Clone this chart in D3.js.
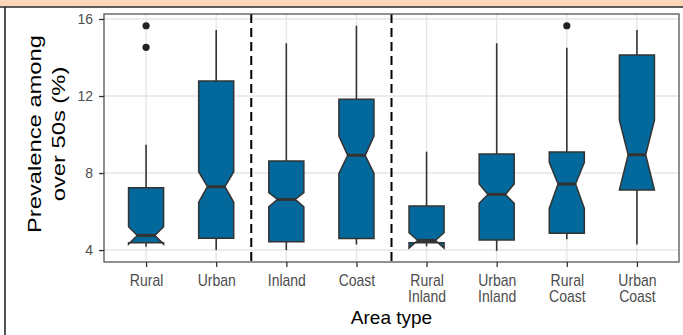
<!DOCTYPE html>
<html>
<head>
<meta charset="utf-8">
<script src="https://cdn.jsdelivr.net/npm/d3@7"></script>
<style>
  html, body { margin: 0; padding: 0; background: #ffffff; }
  svg { display: block; }
  text { font-family: "Liberation Sans", Arial, Helvetica, sans-serif; }
</style>
</head>
<body>
<svg id="chart" width="683" height="335"></svg>
<script>
// Area types (line breaks split the two-word labels)
const categories = ["Rural", "Urban", "Inland", "Coast",
  "Rural\nInland", "Urban\nInland", "Rural\nCoast", "Urban\nCoast"];

// Box-plot summaries per area type (prevalence, %)
const whiskerLow  = [4.17, 4.00, 4.00, 4.29, 4.20, 3.96, 4.56, 4.29];
const q1          = [4.38, 4.61, 4.43, 4.60, 4.38, 4.52, 4.87, 7.12];
const median      = [4.76, 7.29, 6.63, 8.92, 4.50, 6.89, 7.43, 8.95];
const q3          = [7.24, 12.78, 8.62, 11.83, 6.29, 8.99, 9.09, 14.13];
const whiskerHigh = [9.47, 15.43, 14.74, 15.65, 9.11, 14.74, 14.51, 15.43];
const notchLow    = [4.31, 6.48, 6.25, 7.98, 4.10, 6.43, 6.16, 7.12];
const notchHigh   = [5.21, 8.07, 6.98, 9.92, 4.90, 7.43, 8.55, 10.75];
const outliers    = [[15.65, 14.53], [], [], [], [], [], [15.65], []];

// Group separators sit between these category positions
const separatorsAfter = [1, 3];

const yTicks = [4, 8, 12, 16];

const svg = d3.select("#chart");
const W = 683, H = 335;

// Page frame: peach band with a dark rule, dark left edge
svg.append("rect").attr("x", 0).attr("y", 0).attr("width", W).attr("height", 6.5).attr("fill", "#fbd6b7");
svg.append("line").attr("x1", 0).attr("x2", W).attr("y1", 7).attr("y2", 7).attr("stroke", "#2a2a2a").attr("stroke-width", 1.6);
svg.append("line").attr("x1", 5).attr("x2", 5).attr("y1", 7).attr("y2", H).attr("stroke", "#2a2a2a").attr("stroke-width", 1.6);

const panel = { left: 104, right: 679, top: 14, bottom: 262 };

const y = d3.scaleLinear().domain([3.38, 16.26]).range([panel.bottom, panel.top]);
const x = d3.scalePoint().domain(categories).range([panel.left, panel.right]).padding(0.6);
const step = x.step();
const boxW = step * 0.5;
const inset = boxW * 0.25;

// Grid
const grid = svg.append("g");
grid.selectAll("line.h").data(yTicks).join("line")
  .attr("x1", panel.left).attr("x2", panel.right)
  .attr("y1", d => y(d)).attr("y2", d => y(d))
  .attr("stroke", "#e6e6e6").attr("stroke-width", 1.4);
grid.selectAll("line.v").data(categories).join("line")
  .attr("x1", d => x(d)).attr("x2", d => x(d))
  .attr("y1", panel.top).attr("y2", panel.bottom)
  .attr("stroke", "#e6e6e6").attr("stroke-width", 1.4);

// Dashed separators between groups
svg.append("g").selectAll("line").data(separatorsAfter).join("line")
  .attr("x1", d => x(categories[d]) + step / 2)
  .attr("x2", d => x(categories[d]) + step / 2)
  .attr("y1", panel.top).attr("y2", panel.bottom)
  .attr("stroke", "#000").attr("stroke-width", 2)
  .attr("stroke-dasharray", "9,5");

const boxes = categories.map((c, i) => ({
  c, lo: whiskerLow[i], q1: q1[i], med: median[i], q3: q3[i], hi: whiskerHigh[i],
  nl: notchLow[i], nh: notchHigh[i], out: outliers[i]
}));

const g = svg.append("g");
const stroke = "#333333";

// Whiskers
g.selectAll("line.wu").data(boxes).join("line")
  .attr("x1", d => x(d.c)).attr("x2", d => x(d.c))
  .attr("y1", d => y(d.q3)).attr("y2", d => y(d.hi))
  .attr("stroke", stroke).attr("stroke-width", 1.6);
g.selectAll("line.wl").data(boxes).join("line")
  .attr("x1", d => x(d.c)).attr("x2", d => x(d.c))
  .attr("y1", d => y(d.q1)).attr("y2", d => y(d.lo))
  .attr("stroke", stroke).attr("stroke-width", 1.6);

// Notched boxes
g.selectAll("path.box").data(boxes).join("path")
  .attr("d", d => {
    const cx = x(d.c), x0 = cx - boxW / 2, x1 = cx + boxW / 2;
    const pts = [
      [x0, y(d.q3)], [x0, y(d.nh)], [x0 + inset, y(d.med)], [x0, y(d.nl)], [x0, y(d.q1)],
      [x1, y(d.q1)], [x1, y(d.nl)], [x1 - inset, y(d.med)], [x1, y(d.nh)], [x1, y(d.q3)]
    ];
    return d3.line()(pts) + "Z";
  })
  .attr("fill", "#03689b").attr("stroke", stroke).attr("stroke-width", 1.5)
  .attr("stroke-linejoin", "miter");

// Medians
g.selectAll("line.med").data(boxes).join("line")
  .attr("x1", d => x(d.c) - boxW / 2 + inset).attr("x2", d => x(d.c) + boxW / 2 - inset)
  .attr("y1", d => y(d.med)).attr("y2", d => y(d.med))
  .attr("stroke", stroke).attr("stroke-width", 3);

// Outliers
g.selectAll("circle").data(boxes.flatMap(d => d.out.map(v => ({ c: d.c, v }))))
  .join("circle")
  .attr("cx", d => x(d.c)).attr("cy", d => y(d.v)).attr("r", 3.6)
  .attr("fill", "#222");

// Panel border
svg.append("rect")
  .attr("x", panel.left).attr("y", panel.top)
  .attr("width", panel.right - panel.left).attr("height", panel.bottom - panel.top)
  .attr("fill", "none").attr("stroke", "#555").attr("stroke-width", 1.3);

// Axes
const yAxis = svg.append("g").attr("transform", `translate(${panel.left},0)`)
  .call(d3.axisLeft(y).tickValues(yTicks).tickSize(5).tickPadding(6).tickFormat(d3.format("d")));
const xAxis = svg.append("g").attr("transform", `translate(0,${panel.bottom})`)
  .call(d3.axisBottom(x).tickSize(5).tickFormat(() => ""));
[yAxis, xAxis].forEach(a => {
  a.select(".domain").remove();
  a.selectAll(".tick line").attr("stroke", "#333").attr("stroke-width", 1.3);
});
yAxis.selectAll(".tick text")
  .attr("fill", "#4d4d4d").attr("font-size", 14);

// Multi-line category labels (slightly tall lettering)
const labelStretch = 1.15;
xAxis.selectAll(".tick").each(function (d) {
  const t = d3.select(this).append("text")
    .attr("transform", `translate(0,23.8) scale(1,${labelStretch})`)
    .attr("fill", "#4d4d4d").attr("font-size", 14).attr("text-anchor", "middle");
  d.split("\n").forEach((line, k) => {
    t.append("tspan").attr("x", 0).attr("y", k * 16.6 / labelStretch).text(line);
  });
});

// Axis titles
svg.append("text").attr("x", (panel.left + panel.right) / 2).attr("y", 324)
  .attr("text-anchor", "middle").attr("font-size", 19).attr("fill", "#000")
  .text("Area type");
const yt = svg.append("text")
  .attr("transform", `translate(0,134) rotate(-90) scale(1.25,1)`)
  .attr("text-anchor", "middle").attr("font-size", 19).attr("fill", "#000");
yt.append("tspan").attr("x", 0).attr("y", 41).text("Prevalence among");
yt.append("tspan").attr("x", 0).attr("y", 65).text("over 50s (%)");
</script>
</body>
</html>
